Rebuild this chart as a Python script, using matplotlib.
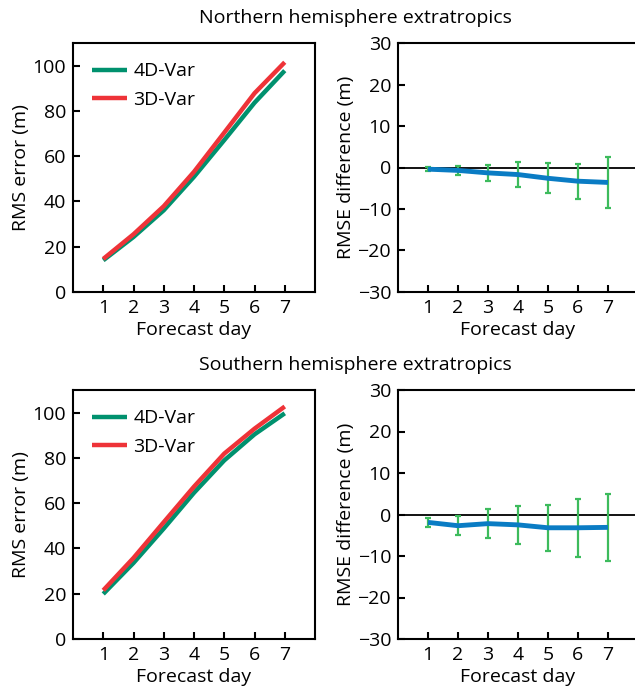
import matplotlib
matplotlib.use("Agg")
import matplotlib.pyplot as plt

plt.rcParams['font.family'] = ['Open Sans', 'DejaVu Sans']

# forecast days
days = [1, 2, 3, 4, 5, 6, 7]

# Northern hemisphere RMS error (m)
nh_4dvar = [14.0, 24.3, 36.1, 50.9, 67.1, 83.6, 97.8]
nh_3dvar = [14.6, 25.5, 37.9, 53.1, 70.4, 87.8, 101.5]
# Northern hemisphere RMSE difference and error bar half-width
nh_diff = [-0.4, -0.7, -1.3, -1.7, -2.6, -3.3, -3.6]
nh_err = [0.5, 1.1, 1.95, 3.0, 3.65, 4.25, 6.1]

# Southern hemisphere
sh_4dvar = [19.9, 33.6, 48.8, 64.6, 78.9, 90.4, 99.7]
sh_3dvar = [21.5, 35.8, 51.6, 67.3, 81.9, 92.9, 102.7]
sh_diff = [-1.9, -2.7, -2.2, -2.5, -3.2, -3.2, -3.1]
sh_err = [1.05, 2.35, 3.45, 4.6, 5.55, 7.05, 8.0]

titles = ["Northern hemisphere extratropics", "Southern hemisphere extratropics"]

green = "#00916e"
red = "#ee3338"
blue = "#0a7cc4"
bar_green = "#3dbb5c"

fs = 14

fig = plt.figure(figsize=(6.35, 6.93), dpi=100)

W, H = 635, 693


def box(x0, y0, x1, y1):
    # pixel box -> figure fraction
    return [x0 / W, 1 - y1 / H, (x1 - x0) / W, (y1 - y0) / H]


def style(ax, right=True):
    for s in ax.spines.values():
        s.set_linewidth(1.5)
    ax.spines['right'].set_visible(right)
    ax.tick_params(direction='in', length=5, width=1.5, labelsize=fs, pad=5)
    ax.set_xlim(0, 8)
    ax.set_xticks(days)
    ax.set_xlabel("Forecast day", fontsize=fs, labelpad=3)


rows = [(nh_4dvar, nh_3dvar, nh_diff, nh_err, 43, 292),
        (sh_4dvar, sh_3dvar, sh_diff, sh_err, 390, 639)]

for i, (v4, v3, d, e, top, bot) in enumerate(rows):
    ax = fig.add_axes(box(73, top, 315, bot))
    ax.plot(days, v4, color=green, lw=3.2, label="4D-Var", solid_capstyle='butt')
    ax.plot(days, v3, color=red, lw=3.2, label="3D-Var", solid_capstyle='butt')
    style(ax)
    ax.set_ylim(0, 110)
    ax.set_yticks([0, 20, 40, 60, 80, 100])
    ax.set_ylabel("RMS error (m)", fontsize=fs, labelpad=2)
    ax.legend(loc='upper left', frameon=False, fontsize=fs, handlelength=1.8,
              handletextpad=0.3, labelspacing=0.55, borderaxespad=0.6)

    ax2 = fig.add_axes(box(398, top, 638, bot))
    ax2.axhline(0, color='black', lw=1.3)
    ax2.errorbar(days, d, yerr=e, fmt='none', ecolor=bar_green, elinewidth=1.6,
                 capsize=2.5, capthick=1.6)
    ax2.plot(days, d, color=blue, lw=3.5, solid_capstyle='butt')
    style(ax2, right=False)
    ax2.set_ylim(-30, 30)
    ax2.set_yticks([-30, -20, -10, 0, 10, 20, 30])
    ax2.set_ylabel("RMSE difference (m)", fontsize=fs, labelpad=2)

    fig.text(355 / W, 1 - (top - 25) / H, titles[i], ha='center', va='center', fontsize=fs)

fig.savefig("out.png", dpi=100)
